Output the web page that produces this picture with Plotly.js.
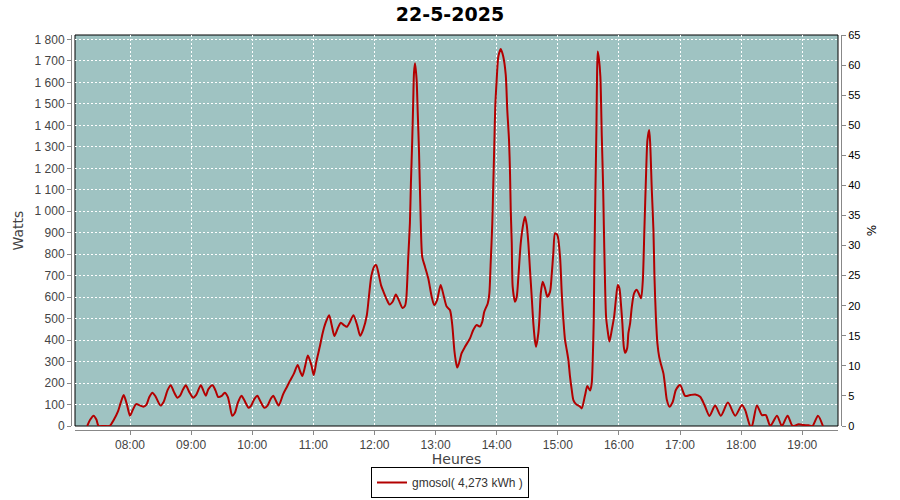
<!DOCTYPE html>
<html>
<head>
<meta charset="utf-8">
<script src="https://cdn.plot.ly/plotly-3.0.1.min.js"></script>
<style>html,body{margin:0;padding:0;background:#fff;}#chart{width:900px;height:500px;}</style>
</head>
<body>
<div id="chart"></div>
<script>
const day = "2025-05-22";
const chartTitle = "22-5-2025";
const seriesName = "gmosol( 4,273 kWh )";
const xTitle = "Heures";
const yTitle = "Watts";
const y2Title = "%";

const times = [
"07:18:00","07:21:00","07:24:18","07:27:00","07:29:12","07:34:00","07:40:00","07:44:00","07:48:12","07:51:00",
"07:53:48","07:57:00","08:00:00","08:03:00","08:06:00","08:10:00","08:13:00","08:16:00","08:19:00","08:22:00",
"08:25:00","08:30:00","08:33:00","08:37:00","08:40:00","08:43:00","08:46:30","08:49:00","08:52:00","08:54:48",
"08:58:00","09:02:00","09:05:00","09:09:30","09:12:00","09:14:24","09:17:00","09:21:00","09:24:00","09:26:36",
"09:30:00","09:33:00","09:36:00","09:38:00","09:40:18","09:43:00","09:46:00","09:49:30","09:52:00","09:56:30",
"09:59:00","10:02:00","10:05:00","10:08:00","10:11:48","10:15:00","10:18:00","10:20:42","10:23:00","10:26:00",
"10:30:30","10:34:24","10:37:00","10:41:00","10:44:36","10:47:00","10:49:12","10:52:00","10:54:36","10:58:00",
"11:00:24","11:03:00","11:06:36","11:09:00","11:12:00","11:15:30","11:18:00","11:20:42","11:24:00","11:27:00",
"11:30:00","11:32:54","11:36:00","11:39:24","11:43:00","11:46:00","11:49:00","11:52:30","11:54:30","11:57:00",
"12:00:00","12:01:42","12:04:00","12:06:30","12:08:54","12:12:00","12:14:48","12:18:00","12:21:00","12:24:00",
"12:27:36","12:30:00","12:31:12","12:33:12","12:34:48","12:35:48","12:37:06","12:38:06","12:38:48","12:39:48",
"12:41:24","12:42:24","12:43:42","12:45:24","12:46:54","12:49:36","12:52:48","12:56:12","12:58:42","13:01:24",
"13:05:00","13:08:12","13:10:54","13:14:06","13:16:24","13:18:24","13:19:42","13:21:18","13:23:00","13:25:36",
"13:28:54","13:33:48","13:37:00","13:40:24","13:43:36","13:45:54","13:47:48","13:51:12","13:52:48","13:54:06",
"13:55:42","13:56:42","13:57:42","13:58:36","14:00:00","14:01:36","14:04:00","14:06:30","14:08:54","14:10:24",
"14:12:06","14:13:06","14:13:48","14:14:48","14:15:42","14:18:00","14:19:42","14:21:18","14:23:36","14:26:12",
"14:27:48","14:29:30","14:31:06","14:32:42","14:34:24","14:36:00","14:37:42","14:38:42","14:40:54","14:41:54",
"14:43:18","14:45:12","14:47:30","14:49:42","14:52:24","14:54:00","14:55:36","14:57:18","14:59:36","15:02:12",
"15:03:54","15:05:30","15:07:06","15:08:48","15:10:24","15:12:00","15:13:42","15:15:18","15:17:54","15:21:54",
"15:23:30","15:26:48","15:29:00","15:31:42","15:33:18","15:34:18","15:35:18","15:35:54","15:36:54","15:37:54",
"15:38:30","15:39:12","15:40:30","15:41:48","15:43:12","15:44:30","15:45:12","15:46:06","15:47:24","15:49:06",
"15:50:42","15:53:00","15:55:18","15:57:00","15:58:54","16:00:30","16:02:12","16:03:24","16:04:48","16:06:06",
"16:08:06","16:09:18","16:11:00","16:12:42","16:14:54","16:17:36","16:20:06","16:21:48","16:23:30","16:25:00",
"16:26:42","16:28:00","16:29:42","16:30:42","16:32:18","16:33:54","16:34:54","16:36:18","16:37:48","16:39:30",
"16:41:30","16:43:42","16:45:24","16:47:06","16:49:36","16:52:54","16:55:54","17:00:06","17:05:00","17:09:54",
"17:14:54","17:19:48","17:24:00","17:28:54","17:34:30","17:40:06","17:47:00","17:54:12","18:00:48","18:04:00",
"18:08:54","18:10:36","18:15:30","18:20:24","18:24:18","18:28:36","18:35:12","18:40:00","18:45:36","18:50:30",
"18:56:24","19:01:18","19:06:12","19:10:06","19:15:24","19:20:18"
];

const watts = [
0,30,48,30,0,0,0,28,68,110,
144,100,48,78,102,95,90,98,135,155,
138,95,112,168,190,160,132,140,170,190,
160,132,145,190,165,141,172,190,165,135,
140,155,136,95,48,62,110,141,122,85,
95,125,141,115,85,95,125,141,120,95,
150,185,210,245,284,255,233,280,328,285,
237,300,375,430,480,516,470,419,455,481,
470,462,485,516,470,420,450,516,600,700,
745,749,710,655,625,590,566,580,612,585,
550,560,590,788,944,1130,1332,1519,1644,1689,
1612,1472,1286,960,788,742,688,602,563,585,
657,602,556,540,470,354,307,272,292,339,
369,408,447,470,463,486,532,571,618,758,
944,1130,1317,1487,1612,1720,1756,1720,1635,1472,
1332,1177,1006,851,649,579,602,695,851,944,
975,936,851,727,602,478,393,369,432,494,
618,672,641,602,626,703,804,898,889,788,
618,494,401,354,307,230,168,121,102,90,
82,144,186,165,199,307,494,758,1084,1379,
1620,1744,1705,1627,1348,1115,936,727,509,439,
393,447,509,587,657,641,556,478,369,341,
362,432,478,556,618,634,610,595,680,913,
1177,1332,1379,1317,1099,913,695,509,385,323,
284,245,183,121,90,113,168,191,140,144,
147,136,98,47,95,48,109,48,98,74,
0,0,96,51,51,0,48,0,48,0,
8,5,3,0,48,0
];

const wattsMax = 1821;     // left axis top
const pctMax = 65;         // right axis top
const pctTicks = 5;

const xs = times.map(t => day + " " + t);

const trace = {
  x: xs, y: watts, type: "scatter", mode: "lines", name: seriesName,
  line: {color: "#b30000", width: 2, shape: "spline", smoothing: 0.7},
  cliponaxis: false, hoverinfo: "x+y"
};
// invisible trace to bind the right axis
const trace2 = {
  x: [xs[0]], y: [0], type: "scatter", mode: "lines", yaxis: "y2",
  showlegend: false, hoverinfo: "skip", line: {color: "rgba(0,0,0,0)"}
};

const tickFont = {family: "Liberation Sans, Arial, sans-serif", size: 12, color: "#444"};

const layout = {
  width: 900, height: 500,
  paper_bgcolor: "#ffffff", plot_bgcolor: "#9fc3c2",
  margin: {l: 71, r: 59, t: 35, b: 70},
  separators: ", ",
  title: {text: chartTitle, x: 0.5, xref: "container", xanchor: "center",
          y: 1 - 14/500, yref: "container", yanchor: "middle",
          font: {family: "DejaVu Sans, sans-serif", size: 19, color: "#000", weight: "bold"}},
  xaxis: {
    type: "date", domain: [4/770, 767/770], anchor: "free", position: 0,
    range: [day + " 07:06:00", day + " 19:35:06"],
    dtick: 3600000, tick0: day + " 00:00", tickformat: "%H:%M",
    showline: true, linecolor: "#888", linewidth: 1,
    ticks: "outside", ticklen: 4, tickcolor: "#888",
    showgrid: true, gridcolor: "#ffffff", griddash: "2px,2px", gridwidth: 1,
    zeroline: false, tickfont: tickFont,
    title: {text: xTitle, standoff: 5, font: {family: "DejaVu Sans, sans-serif", size: 14, color: "#444"}}
  },
  yaxis: {
    domain: [4/395, 1], anchor: "free", position: 0,
    range: [0, wattsMax], dtick: 100, tick0: 0, separatethousands: true,
    showline: true, linecolor: "#888", linewidth: 1,
    ticks: "outside", ticklen: 4, tickcolor: "#888",
    showgrid: true, gridcolor: "#ffffff", griddash: "2px,2px", gridwidth: 1,
    zeroline: false, tickfont: tickFont,
    title: {text: yTitle, standoff: 6, font: {family: "DejaVu Sans, sans-serif", size: 14, color: "#444"}}
  },
  yaxis2: {
    overlaying: "y", side: "right", anchor: "free", position: 1,
    range: [0, pctMax], dtick: pctTicks, tick0: 0,
    showline: true, linecolor: "#888", linewidth: 1,
    ticks: "outside", ticklen: 4, tickcolor: "#888",
    showgrid: false, zeroline: false,
    tickfont: {family: "Liberation Sans, Arial, sans-serif", size: 11, color: "#000"},
    title: {text: y2Title, standoff: 8, font: {family: "DejaVu Sans, sans-serif", size: 12, color: "#000"}}
  },
  shapes: [{type: "rect", xref: "x domain", yref: "y domain", x0: 0, x1: 1, y0: 0, y1: 1,
            line: {color: "#000", width: 1}, layer: "below"}],
  showlegend: true,
  legend: {orientation: "h", x: 0.5, xref: "container", xanchor: "center",
           y: 1 - 498/500, yref: "container", yanchor: "bottom",
           bgcolor: "#fff", bordercolor: "#000", borderwidth: 1, itemwidth: 30,
           font: {family: "Liberation Sans, Arial, sans-serif", size: 12, color: "#333"}}
};

Plotly.newPlot("chart", [trace, trace2], layout, {displayModeBar: false, staticPlot: true});
</script>
</body>
</html>
